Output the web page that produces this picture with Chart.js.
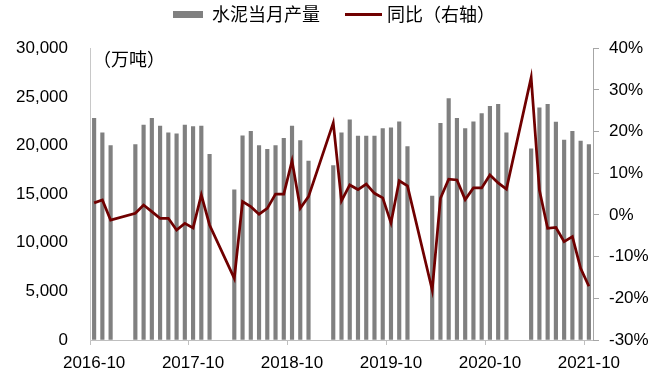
<!DOCTYPE html>
<html>
<head>
<meta charset="utf-8">
<script src="https://cdn.jsdelivr.net/npm/chart.js@4.4.0/dist/chart.umd.min.js"></script>
<style>html,body{margin:0;padding:0;background:#fff;}canvas{display:block;}</style>
</head>
<body>
<canvas id="c" width="672" height="382"></canvas>
<script>
// ---- data ----
const months = [
  '2016-10','2016-11','2016-12',
  '2017-01','2017-02','2017-03','2017-04','2017-05','2017-06','2017-07','2017-08','2017-09','2017-10','2017-11','2017-12',
  '2018-01','2018-02','2018-03','2018-04','2018-05','2018-06','2018-07','2018-08','2018-09','2018-10','2018-11','2018-12',
  '2019-01','2019-02','2019-03','2019-04','2019-05','2019-06','2019-07','2019-08','2019-09','2019-10','2019-11','2019-12',
  '2020-01','2020-02','2020-03','2020-04','2020-05','2020-06','2020-07','2020-08','2020-09','2020-10','2020-11','2020-12',
  '2021-01','2021-02','2021-03','2021-04','2021-05','2021-06','2021-07','2021-08','2021-09','2021-10'
];
// 水泥当月产量 (万吨); Jan/Feb not reported separately
const cementOutput = [
  22800, 21300, 20000,
  null, null, 20100, 22100, 22800, 22000, 21300, 21200, 22100, 21950, 22000, 19100,
  null, null, 15450, 21000, 21470, 20000, 19600, 20000, 20750, 22000, 20500, 18400,
  null, null, 17950, 21300, 22640, 20960, 20960, 20960, 21750, 21820, 22430, 19900,
  null, null, 14790, 22290, 24830, 22810, 21750, 22430, 23290, 24040, 24250, 21300,
  null, null, 19660, 23870, 24250, 22400, 20550, 21470, 20450, 20100
];
// 同比 (%)
const yoyGrowth = [
  2.9, 3.6, -1.2,
  null, null, 0.4, 2.4, 0.8, -0.8, -0.8, -3.6, -2.0, -3.1, 4.8, -2.4,
  null, null, -15.2, 3.2, 2.0, 0.2, 1.6, 5.0, 5.0, 13.0, 1.6, 4.4,
  null, null, 22.1, 3.4, 7.2, 6.1, 7.4, 5.2, 4.1, -1.9, 8.2, 7.0,
  null, null, -18.0, 4.0, 8.6, 8.4, 3.7, 6.5, 6.5, 9.6, 7.7, 6.2,
  null, null, 33.0, 6.0, -3.2, -3.0, -6.4, -5.2, -12.8, -17.1
];
const xTickLabels = ['2016-10','2017-10','2018-10','2019-10','2020-10','2021-10'];
const seriesNames = ['水泥当月产量', '同比（右轴）'];
const unitLabel = '（万吨）';

// ---- styles ----
const BAR_COLOR = '#808080';
const LINE_COLOR = '#700000';
const TICK_FONT = {family: '"Liberation Sans", Arial, sans-serif', size: 17};
const CJK_FONT = {family: '"Noto Sans CJK SC", sans-serif', size: 18};
const LEGEND_EXTRA_SPACE = 14.8;

function makeSwatch(w, h, color) {
  const c = document.createElement('canvas');
  c.width = w; c.height = h;
  const g = c.getContext('2d');
  g.fillStyle = color; g.fillRect(0, 0, w, h);
  return c;
}
const barSwatch = makeSwatch(30, 7, BAR_COLOR);
const lineSwatch = makeSwatch(37, 3, LINE_COLOR);

const legendSpacer = {
  id: 'legendSpacer',
  beforeLayout(chart) {
    const lg = chart.legend;
    if (lg && !lg._spacerWrapped) {
      const orig = lg.fit;
      lg.fit = function () { orig.call(this); this.height += LEGEND_EXTRA_SPACE; };
      lg._spacerWrapped = true;
    }
  }
};

const unitNote = {
  id: 'unitNote',
  afterDraw(chart) {
    const {ctx, chartArea} = chart;
    ctx.save();
    ctx.font = CJK_FONT.size + 'px ' + CJK_FONT.family;
    ctx.fillStyle = '#000';
    ctx.textBaseline = 'middle';
    ctx.textAlign = 'left';
    ctx.fillText(unitLabel, chartArea.left + 3, chartArea.top + 11);
    ctx.restore();
  }
};

new Chart(document.getElementById('c'), {
  type: 'bar',
  data: {
    labels: months,
    datasets: [
      {type: 'bar', label: seriesNames[0], data: cementOutput, backgroundColor: BAR_COLOR,
       yAxisID: 'y', barThickness: 3.5, order: 1},
      {type: 'line', label: seriesNames[1], data: yoyGrowth, borderColor: LINE_COLOR,
       backgroundColor: LINE_COLOR, borderWidth: 2.75, pointRadius: 0, tension: 0,
       spanGaps: true, yAxisID: 'y1', order: 0}
    ]
  },
  options: {
    responsive: false,
    animation: false,
    devicePixelRatio: 1,
    layout: {padding: {top: -22.5, left: 0, right: 4, bottom: 0}},
    plugins: {
      tooltip: {enabled: false},
      legend: {
        position: 'top',
        labels: {
          usePointStyle: true,
          pointStyleWidth: 30,
          padding: 28,
          color: '#000',
          font: CJK_FONT,
          generateLabels: () => [
            {text: seriesNames[0], pointStyle: barSwatch, fillStyle: BAR_COLOR, strokeStyle: BAR_COLOR,
             lineWidth: 0, hidden: false, datasetIndex: 0, fontColor: '#000'},
            {text: seriesNames[1], pointStyle: lineSwatch, fillStyle: LINE_COLOR, strokeStyle: LINE_COLOR,
             lineWidth: 0, hidden: false, datasetIndex: 1, fontColor: '#000'}
          ]
        }
      }
    },
    scales: {
      x: {
        type: 'category',
        offset: true,
        grid: {
          display: true, offset: true, drawOnChartArea: false, drawTicks: true, tickLength: 5,
          color: (c) => (c.index < months.length && xTickLabels.includes(months[c.index])) ? '#bfbfbf' : 'rgba(0,0,0,0)'
        },
        border: {color: '#bfbfbf', width: 1},
        ticks: {
          autoSkip: false, maxRotation: 0, minRotation: 0, padding: 8, color: '#000', font: TICK_FONT,
          callback: (v, i) => xTickLabels.includes(months[i]) ? months[i] : ''
        },
        afterFit: (s) => { s.height = 42; }
      },
      y: {
        position: 'left',
        min: 0, max: 30000,
        ticks: {stepSize: 5000, padding: 22, color: '#000', font: TICK_FONT,
                callback: (v) => v.toLocaleString('en-US')},
        grid: {display: true, drawOnChartArea: false, drawTicks: false},
        border: {color: '#c8c8c8', width: 1},
        afterFit: (s) => { s.width = 90; }
      },
      y1: {
        position: 'right',
        min: -30, max: 40,
        ticks: {stepSize: 10, padding: 10, color: '#000', font: TICK_FONT,
                callback: (v) => v + '%'},
        grid: {display: true, drawOnChartArea: false, drawTicks: true, tickLength: 6, color: '#a6a6a6'},
        border: {color: '#a6a6a6', width: 1},
        afterFit: (s) => { s.width = 75; }
      }
    }
  },
  plugins: [legendSpacer, unitNote]
});
</script>
</body>
</html>
